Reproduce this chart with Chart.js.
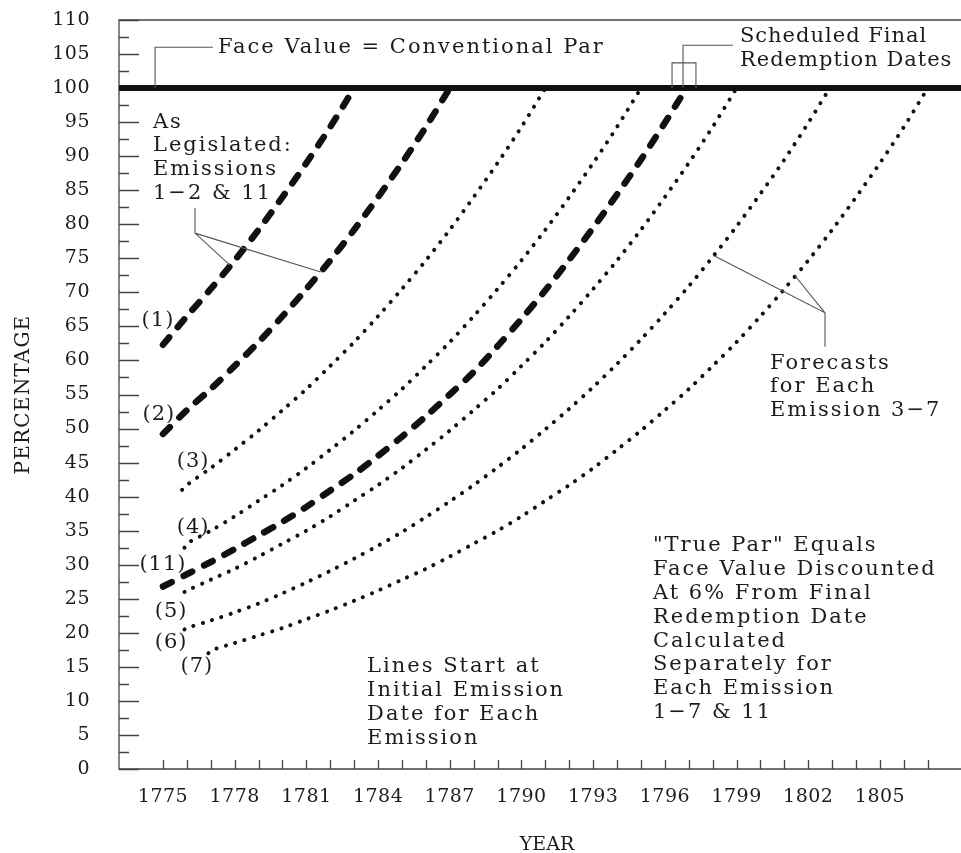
<!DOCTYPE html>
<html>
<head>
<meta charset="utf-8">
<script src="https://cdn.jsdelivr.net/npm/chart.js@4.4.0/dist/chart.umd.min.js"></script>
<style>
  html, body { margin: 0; padding: 0; background: #fff; }
  #wrap { width: 961px; height: 853px; position: relative; }
</style>
</head>
<body>
<div id="wrap"><canvas id="par-chart"></canvas></div>
<script>
// emissions: year, percentage of face value
var yearsE1 = [1775, 1776, 1777, 1778, 1779, 1780, 1781, 1782, 1783];
var valuesE1 = [62.3, 66.5, 70.5, 74.7, 79.2, 84.0, 89.0, 94.3, 100];

var yearsE2 = [1775, 1776, 1777, 1778, 1779, 1780, 1781, 1782, 1783, 1784, 1785, 1786, 1787];
var valuesE2 = [49.2, 52.7, 55.8, 59.2, 62.7, 66.5, 70.5, 74.7, 79.2, 84.0, 89.0, 94.3, 100];

var yearsE3 = [1775.8, 1776, 1777, 1778, 1779, 1780, 1781, 1782, 1783, 1784, 1785, 1786, 1787, 1788, 1789, 1790, 1791];
var valuesE3 = [41.0, 41.7, 44.2, 46.9, 49.7, 52.7, 55.8, 59.2, 62.7, 66.5, 70.5, 74.7, 79.2, 84.0, 89.0, 94.3, 100];

var yearsE4 = [1775.9, 1776, 1777, 1778, 1779, 1780, 1781, 1782, 1783, 1784, 1785, 1786, 1787, 1788, 1789, 1790, 1791, 1792, 1793, 1794, 1795];
var valuesE4 = [32.5, 33.1, 35.0, 37.1, 39.4, 41.7, 44.2, 46.9, 49.7, 52.7, 55.8, 59.2, 62.7, 66.5, 70.5, 74.7, 79.2, 84.0, 89.0, 94.3, 100];

var yearsE11 = [1775, 1776, 1777, 1778, 1779, 1780, 1781, 1782, 1783, 1784, 1785, 1786, 1787, 1788, 1789, 1790, 1791, 1792, 1793, 1794, 1795, 1796, 1796.9];
var valuesE11 = [26.8, 28.6, 30.4, 32.3, 34.3, 36.3, 38.5, 40.9, 43.3, 46.0, 48.8, 51.8, 55.0, 58.3, 62.1, 66.1, 70.3, 74.8, 79.5, 84.4, 89.5, 94.9, 100];

var yearsE5 = [1775.9, 1776, 1777, 1778, 1779, 1780, 1781, 1782, 1783, 1784, 1785, 1786, 1787, 1788, 1789, 1790, 1791, 1792, 1793, 1794, 1795, 1796, 1797, 1798, 1799];
var valuesE5 = [26.0, 26.2, 27.8, 29.4, 31.2, 33.1, 35.0, 37.1, 39.4, 41.7, 44.2, 46.9, 49.7, 52.7, 55.8, 59.2, 62.7, 66.5, 70.5, 74.7, 79.2, 84.0, 89.0, 94.3, 100];

var yearsE6 = [1775.9, 1776, 1777, 1778, 1779, 1780, 1781, 1782, 1783, 1784, 1785, 1786, 1787, 1788, 1789, 1790, 1791, 1792, 1793, 1794, 1795, 1796, 1797, 1798, 1799, 1800, 1801, 1802, 1802.9];
var valuesE6 = [20.5, 20.7, 21.8, 23.0, 24.3, 25.8, 27.4, 29.1, 30.9, 32.8, 34.8, 37.0, 39.3, 41.7, 44.3, 47.0, 49.9, 52.9, 56.1, 59.5, 63.1, 66.9, 70.9, 75.2, 79.7, 84.5, 89.5, 94.9, 100];

var yearsE7 = [1776.9, 1777, 1778, 1779, 1780, 1781, 1782, 1783, 1784, 1785, 1786, 1787, 1788, 1789, 1790, 1791, 1792, 1793, 1794, 1795, 1796, 1797, 1798, 1799, 1800, 1801, 1802, 1803, 1804, 1805, 1806, 1807];
var valuesE7 = [17.0, 17.4, 18.5, 19.6, 20.7, 22.0, 23.3, 24.7, 26.2, 27.8, 29.4, 31.2, 33.1, 35.0, 37.1, 39.4, 41.7, 44.2, 46.9, 49.7, 52.7, 55.8, 59.2, 62.7, 66.5, 70.5, 74.7, 79.2, 84.0, 89.0, 94.3, 100];

var faceValue = 100;
var yTickLabels = ["0", "5", "10", "15", "20", "25", "30", "35", "40", "45", "50", "55", "60", "65", "70", "75", "80", "85", "90", "95", "100", "105", "110"];
var xTickLabels = ["1775", "1778", "1781", "1784", "1787", "1790", "1793", "1796", "1799", "1802", "1805"];
var firstTickYear = 1775, lastTickYear = 1807;

var X_MIN = 1773.16, X_MAX = 1808.39;
var FONT = "'DejaVu Serif', 'Liberation Serif', serif";
var INK = "#1c1c1c";

function pts(xs, ys) {
  var out = [];
  for (var i = 0; i < xs.length; i++) out.push({ x: xs[i], y: ys[i] });
  return out;
}
function dashed(label, xs, ys) {
  return { label: label, data: pts(xs, ys), borderColor: "#111", borderWidth: 6.5,
    borderDash: [10, 13], borderCapStyle: "round", pointRadius: 0, tension: 0.3 };
}
function dotted(label, xs, ys) {
  return { label: label, data: pts(xs, ys), borderColor: "#111", borderWidth: 4,
    borderDash: [0.1, 9.6], borderCapStyle: "round", pointRadius: 0, tension: 0.3 };
}

// annotation texts, positioned in data units
var notes = [
  { lines: ["Face Value = Conventional Par"], x: 1777.3, y: 105.9, sp: 2 },
  { lines: ["Scheduled Final", "Redemption Dates"], x: 1799.14, y: 107.5, sp: 1 },
  { lines: ["As", "Legislated:", "Emissions", "1\u22122 & 11"], x: 1774.58, y: 95.0, sp: 2 },
  { lines: ["Forecasts", "for Each", "Emission 3\u22127"], x: 1800.4, y: 59.6, sp: 2 },
  { lines: ["Lines Start at", "Initial Emission", "Date for Each", "Emission"], x: 1783.54, y: 15.0, sp: 2 },
  { lines: ["\"True Par\" Equals", "Face Value Discounted", "At 6% From Final", "Redemption Date",
    "Calculated", "Separately for", "Each Emission", "1\u22127 & 11"], x: 1795.5, y: 32.75, sp: 2 }
];
var seriesTags = [
  { t: "(1)", x: 1774.79, y: 65.9 }, { t: "(2)", x: 1774.83, y: 52.0 },
  { t: "(3)", x: 1776.26, y: 45.1 }, { t: "(4)", x: 1776.26, y: 35.5 },
  { t: "(11)", x: 1775.0, y: 30.0 }, { t: "(5)", x: 1775.34, y: 23.1 },
  { t: "(6)", x: 1775.34, y: 18.5 }, { t: "(7)", x: 1776.42, y: 15.0 }
];

var parDecor = {
  id: "parDecor",
  beforeDatasetsDraw: function (chart) {
    var c = chart.ctx, a = chart.chartArea, sx = chart.scales.x, sy = chart.scales.y;
    c.save();
    c.strokeStyle = "#444";
    c.lineWidth = 1.3;
    c.beginPath();
    c.moveTo(a.right, a.top); c.lineTo(a.left, a.top);
    c.lineTo(a.left, a.bottom); c.lineTo(a.right, a.bottom);
    c.stroke();
    // y ticks, inward
    c.beginPath();
    for (var v = 0; v <= 110; v += 2.5) {
      var py = Math.round(sy.getPixelForValue(v)) + 0.5;
      c.moveTo(a.left, py);
      c.lineTo(a.left + (v % 5 === 0 ? 20 : 10), py);
    }
    // x ticks, every year
    for (var yr = firstTickYear; yr <= lastTickYear; yr++) {
      var px = Math.round(sx.getPixelForValue(yr)) + 0.5;
      c.moveTo(px, a.bottom);
      c.lineTo(px, a.bottom - 9);
    }
    c.stroke();
    c.restore();
  },
  afterDatasetsDraw: function (chart) {
    var c = chart.ctx, a = chart.chartArea, sx = chart.scales.x, sy = chart.scales.y;
    function X(v) { return sx.getPixelForValue(v); }
    function Y(v) { return sy.getPixelForValue(v); }
    c.save();
    c.fillStyle = INK;

    // tick labels
    c.font = "19px " + FONT;
    c.letterSpacing = "0.5px";
    c.textAlign = "right"; c.textBaseline = "middle";
    yTickLabels.forEach(function (s) { c.fillText(s, a.left - 29, Y(+s)); });
    c.textAlign = "center";
    xTickLabels.forEach(function (s) { c.fillText(s, X(+s), a.bottom + 28); });

    // axis titles
    c.letterSpacing = "0px";
    c.fillText("YEAR", 547, 845);
    c.save();
    c.translate(24, (a.top + a.bottom) / 2);
    c.rotate(-Math.PI / 2);
    c.font = "20px " + FONT;
    c.letterSpacing = "1.2px";
    c.fillText("PERCENTAGE", 0, 0);
    c.restore();

    // notes
    c.font = "21px " + FONT;
    c.textAlign = "left";
    notes.forEach(function (n) {
      c.letterSpacing = n.sp + "px";
      n.lines.forEach(function (s, i) { c.fillText(s, X(n.x), Y(n.y) + i * 23.8); });
    });
    c.textAlign = "center";
    c.letterSpacing = "1px";
    seriesTags.forEach(function (t) { c.fillText(t.t, X(t.x), Y(t.y)); });

    // leader lines
    c.strokeStyle = "#555";
    c.lineWidth = 1.1;
    c.beginPath();
    // face value
    c.moveTo(X(1777.09), Y(106.0)); c.lineTo(X(1774.67), Y(106.0)); c.lineTo(X(1774.67), Y(faceValue));
    // scheduled final redemption
    c.moveTo(X(1798.85), Y(106.3)); c.lineTo(X(1796.76), Y(106.3)); c.lineTo(X(1796.76), Y(faceValue));
    c.moveTo(X(1796.3), Y(faceValue)); c.lineTo(X(1796.3), Y(103.7));
    c.lineTo(X(1797.3), Y(103.7)); c.lineTo(X(1797.3), Y(faceValue));
    // as legislated
    c.moveTo(X(1776.34), Y(82.4)); c.lineTo(X(1776.34), Y(78.7)); c.lineTo(X(1777.8), Y(74.0));
    c.moveTo(X(1776.34), Y(78.7)); c.lineTo(X(1781.6), Y(73.0));
    // forecasts
    c.moveTo(X(1802.7), Y(62.0)); c.lineTo(X(1802.7), Y(67.0)); c.lineTo(X(1798.1), Y(75.3));
    c.moveTo(X(1802.7), Y(67.0)); c.lineTo(X(1801.45), Y(72.4));
    c.stroke();
    c.restore();
  }
};

var ctx = document.getElementById("par-chart").getContext("2d");
var chart = new Chart(ctx, {
  type: "line",
  data: {
    datasets: [
      { label: "Face value", data: [{ x: X_MIN, y: faceValue }, { x: X_MAX, y: faceValue }],
        borderColor: "#111", borderWidth: 6, borderCapStyle: "round", pointRadius: 0 },
      dashed("(1)", yearsE1, valuesE1),
      dashed("(2)", yearsE2, valuesE2),
      dotted("(3)", yearsE3, valuesE3),
      dotted("(4)", yearsE4, valuesE4),
      dashed("(11)", yearsE11, valuesE11),
      dotted("(5)", yearsE5, valuesE5),
      dotted("(6)", yearsE6, valuesE6),
      dotted("(7)", yearsE7, valuesE7)
    ]
  },
  options: {
    responsive: true,
    maintainAspectRatio: false,
    animation: false,
    layout: { padding: { top: 20, left: 119, right: 0, bottom: 84 } },
    plugins: { legend: { display: false }, tooltip: { enabled: false } },
    scales: {
      x: { type: "linear", min: X_MIN, max: X_MAX, display: false },
      y: { type: "linear", min: 0, max: 110, display: false }
    }
  },
  plugins: [parDecor]
});
</script>
</body>
</html>
